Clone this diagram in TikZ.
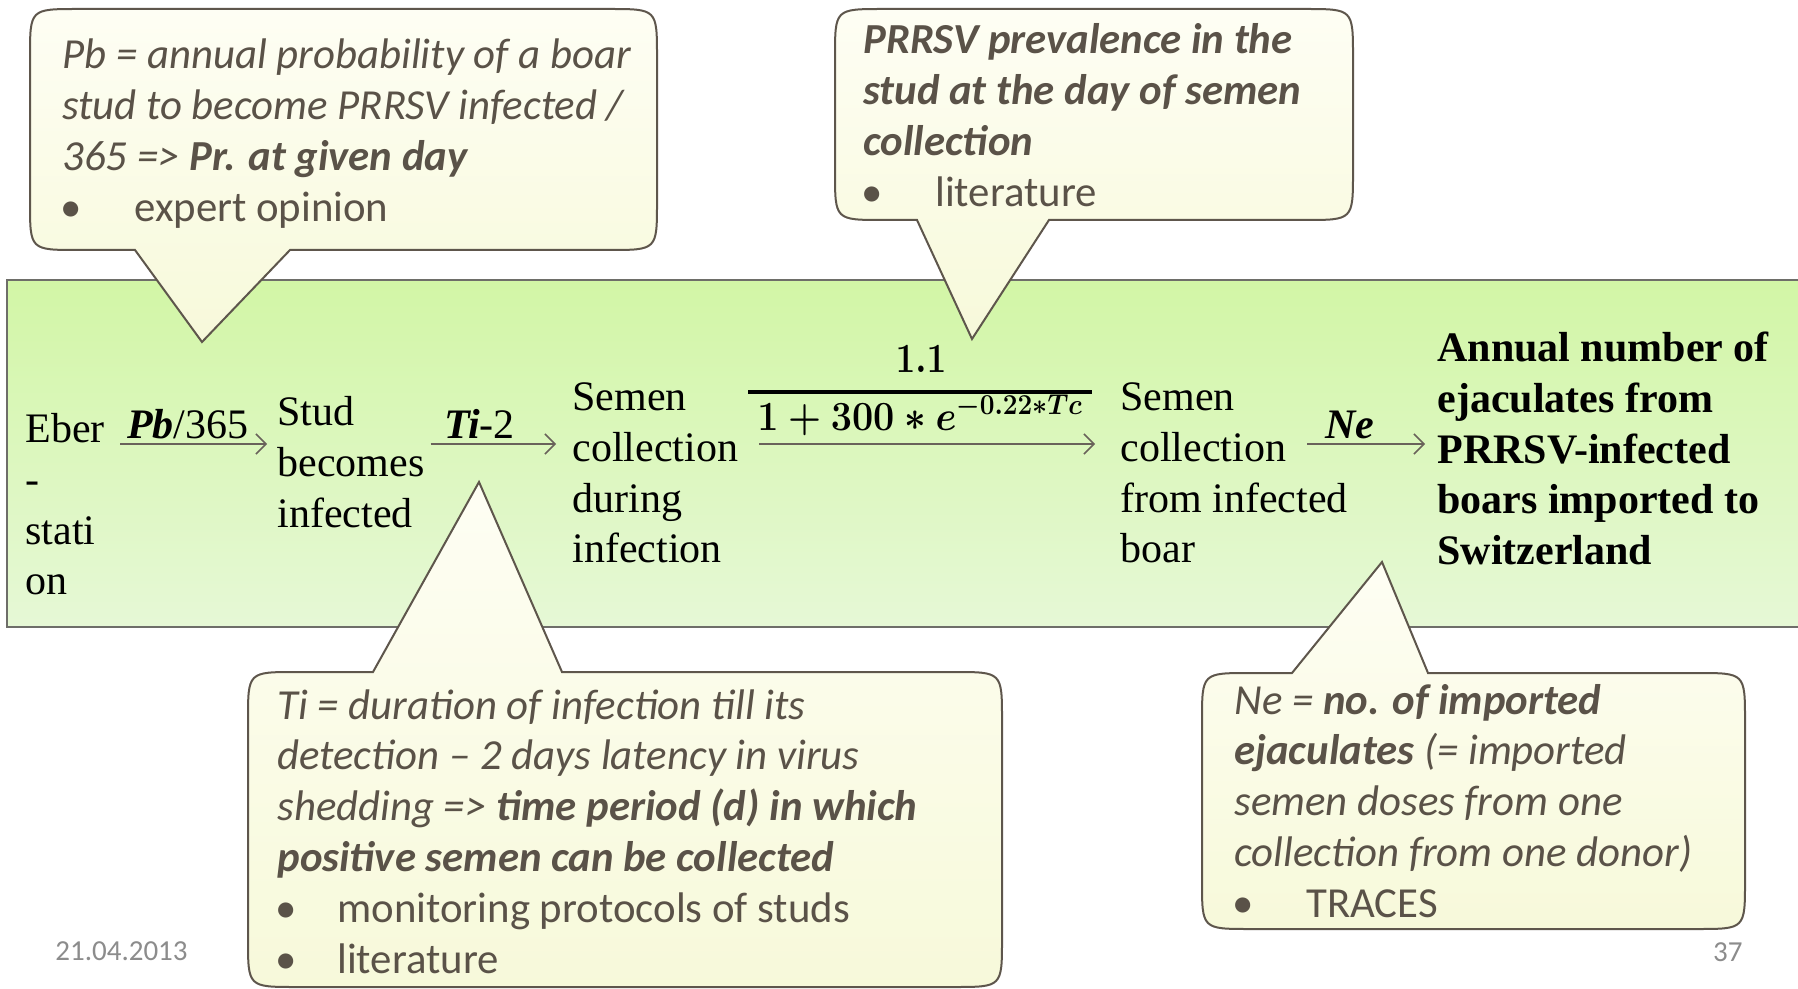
\documentclass[tikz,border=0pt]{standalone}
\usepackage{amsmath}
\usepackage{graphicx}
\usepackage{fontspec}
\setmainfont{Liberation Serif}
\newfontfamily\calfont{Carlito}
\usetikzlibrary{arrows.meta}
\definecolor{calltext}{RGB}{90,82,72}
\definecolor{callborder}{RGB}{94,86,76}
\definecolor{calltop}{RGB}{254,254,244}
\definecolor{callbot}{RGB}{247,249,218}
\definecolor{greentop}{RGB}{210,246,166}
\definecolor{greenbot}{RGB}{230,248,214}
\definecolor{boxborder}{RGB}{110,110,105}
\definecolor{arrowcol}{RGB}{105,98,90}
\definecolor{footgray}{RGB}{140,140,140}
\tikzset{
  callout/.style={draw=callborder, line width=1pt, top color=calltop, bottom color=callbot, line join=miter},
  calltxt/.style={anchor=base west, inner sep=0pt, text=calltext, font=\calfont\fontsize{21.4}{25.4}\selectfont},
  flowtxt/.style={anchor=base west, inner sep=0pt, font=\fontsize{21}{25.4}\selectfont},
  flowarrow/.style={draw=arrowcol, line width=0.75pt, -{Straight Barb[length=5pt,width=10pt]}},
  lbl/.style={anchor=base, inner sep=0pt, yshift=3pt, font=\fontsize{21}{25.4}\selectfont},
  mathtxt/.style={anchor=base, inner sep=0pt, font=\fontsize{22}{26}\selectfont\boldmath},
  foot/.style={inner sep=0pt, text=footgray, font=\calfont\fontsize{14.5}{16}\selectfont},
}
\newcommand\bul[2]{\hbox{\makebox[#1][l]{\hspace{-1pt}\upshape •}#2}}
\begin{document}
\begin{tikzpicture}[x=0.5pt,y=-0.5pt]
\clip (0,0) rectangle (1798,989);
\fill[white] (0,0) rectangle (1798,989);
% main green band
\shade[top color=greentop, bottom color=greenbot] (7,280) rectangle (1815,627);
\draw[boxborder, line width=1pt] (7,280) rectangle (1815,627);

% callout 1
\path[callout] (135,250) -- (78,250) .. controls (30,250) .. (30,202) -- (30,57) .. controls (30,9) .. (78,9)
  -- (609,9) .. controls (657,9) .. (657,57) -- (657,202) .. controls (657,250) .. (609,250)
  -- (290,250) -- (202,342) -- cycle;
% callout 2
\path[callout] (917,220) -- (883,220) .. controls (835,220) .. (835,172) -- (835,57) .. controls (835,9) .. (883,9)
  -- (1305,9) .. controls (1353,9) .. (1353,57) -- (1353,172) .. controls (1353,220) .. (1305,220)
  -- (1049,220) -- (972,339) -- cycle;
% callout 3
\path[callout] (373,672) -- (479,482) -- (562,672) -- (954,672) .. controls (1002,672) .. (1002,720)
  -- (1002,939) .. controls (1002,987) .. (954,987) -- (296,987) .. controls (248,987) .. (248,939)
  -- (248,720) .. controls (248,672) .. (296,672) -- cycle;
% callout 4
\path[callout] (1292,673) -- (1382,562) -- (1428,673) -- (1697,673) .. controls (1745,673) .. (1745,721)
  -- (1745,881) .. controls (1745,929) .. (1697,929) -- (1250,929) .. controls (1202,929) .. (1202,881)
  -- (1202,721) .. controls (1202,673) .. (1250,673) -- cycle;

% callout texts
\node[calltxt] (c1) at (62,69) {\vtop{%
  \hbox{\itshape Pb = annual probability of a boar}%
  \hbox{\itshape stud to become PRRSV infected /}%
  \hbox{\itshape 365 => \bfseries Pr. at given day}%
  \bul{36pt}{expert opinion}}};
\node[calltxt] (c2) at (863,54) {\vtop{%
  \hbox{\itshape\bfseries PRRSV prevalence in the}%
  \hbox{\itshape\bfseries stud at the day of semen}%
  \hbox{\itshape\bfseries collection}%
  \bul{36pt}{literature}}};
\node[calltxt] (c3) at (277,719) {\vtop{%
  \hbox{\itshape Ti = duration of infection till its}%
  \hbox{\itshape detection – 2 days latency in virus}%
  \hbox{\itshape shedding => \bfseries time period (d) in which}%
  \hbox{\itshape\bfseries positive semen can be collected}%
  \bul{30pt}{monitoring protocols of studs}%
  \bul{30pt}{literature}}};
\node[calltxt] (c4) at (1234,714) {\vtop{%
  \hbox{\itshape Ne = \bfseries no. of imported}%
  \hbox{{\itshape\bfseries ejaculates}\itshape\ (= imported}%
  \hbox{\itshape semen doses from one}%
  \hbox{\itshape collection from one donor)}%
  \bul{36pt}{TRACES}}};

% flow nodes
\node[flowtxt] (eber) at (25,442.5) {\vtop{\hbox{Eber}\hbox{-}\hbox{stati}\hbox{on}}};
\node[flowtxt] (stud) at (277,425.5) {\vtop{\hbox{Stud}\hbox{becomes}\hbox{infected}}};
\node[flowtxt] (semen1) at (572,410.5) {\vtop{\hbox{Semen}\hbox{collection}\hbox{during}\hbox{infection}}};
\node[flowtxt] (semen2) at (1120,410.5) {\vtop{\hbox{Semen}\hbox{collection}\hbox{from infected}\hbox{boar}}};
\node[flowtxt, font=\bfseries\fontsize{21}{25.4}\selectfont] (result) at (1437,361.5) {\vtop{\hbox{Annual number of}\hbox{ejaculates from}\hbox{PRRSV-infected}\hbox{boars imported to}\hbox{Switzerland}}};

% formula: numerator, fraction bar, denominator
\node[mathtxt] (num) at (921,372) {\scalebox{0.85}[1]{$1.1$}};
\node[mathtxt] (den) at (920,430) {\scalebox{0.91}[1]{$1+300\ast e^{-0.22\ast Tc}$}};
\draw[line width=2pt] (748,392) -- (1092,392);

% arrows
\draw[flowarrow] ([shift={(15,1.5)}]eber.base east) -- ([shift={(-10,18.5)}]stud.base west)
  node[lbl, pos=0.46] (lpb) {\textbf{\textit{Pb}}/365};
\draw[flowarrow] ([shift={(6,18.5)}]stud.base east) -- ([shift={(-16,33.5)}]semen1.base west)
  node[lbl, pos=0.39] (lti) {\textbf{\textit{Ti}}-2};
\draw[flowarrow] ([shift={(21,33.5)}]semen1.base east) -- ([shift={(-25,33.5)}]semen2.base west);
\draw[flowarrow] ([shift={(187,33.5)}]semen2.base west) -- ([shift={(-12,82.5)}]result.base west)
  node[lbl, pos=0.36] (lne) {\textbf{\textit{Ne}}};

% footer
\node[foot, anchor=west] (date) at (55,951) {21.04.2013};
\node[foot, anchor=east] (page) at (1743,952) {37};
\end{tikzpicture}
\end{document}
